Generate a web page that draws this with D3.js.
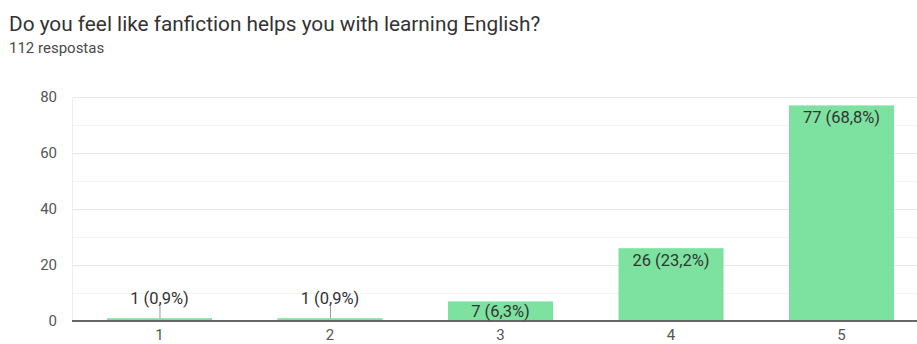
<!DOCTYPE html>
<html>
<head>
<meta charset="utf-8">
<script src="https://cdn.jsdelivr.net/npm/d3@7"></script>
<style>
  html, body { margin: 0; padding: 0; background: #fff; }
  svg { display: block; font-family: Roboto, "Noto Sans", sans-serif; }
</style>
</head>
<body>
<svg id="chart" width="917" height="344"></svg>
<script>
const title = "Do you feel like fanfiction helps you with learning English?";
const subtitle = "112 respostas";
const categories = ["1", "2", "3", "4", "5"];
const counts = [1, 1, 7, 26, 77];
const percentLabels = ["0,9%", "0,9%", "6,3%", "23,2%", "68,8%"];
const yTicks = [0, 20, 40, 60, 80];
const yMinorTicks = [10, 30, 50, 70];

const svg = d3.select("#chart");
const W = 917;
const FONT = "Roboto, 'Noto Sans', sans-serif";

svg.append("text").attr("x", 9).attr("y", 31)
  .attr("font-size", 20.8).attr("fill", "#333").text(title);
svg.append("text").attr("x", 9).attr("y", 53)
  .attr("font-size", 15).attr("fill", "#4a4a4a").text(subtitle);

const x = d3.scaleBand().domain(categories).range([72, 929])
  .paddingInner(0.384).paddingOuter(0.205);
const y = d3.scaleLinear().domain([0, 80]).range([321, 97]);

// gridlines: light minor lines at odd tens, slightly darker at labelled ticks
svg.append("g").selectAll("line").data(yMinorTicks).join("line")
  .attr("x1", 72).attr("x2", W).attr("y1", d => y(d) + 0.5).attr("y2", d => y(d) + 0.5)
  .attr("stroke", "#f4f4f4").attr("stroke-width", 1);
svg.append("g").selectAll("line").data(yTicks.filter(d => d > 0)).join("line")
  .attr("x1", 72).attr("x2", W).attr("y1", d => y(d) + 0.5).attr("y2", d => y(d) + 0.5)
  .attr("stroke", "#e8e8e8").attr("stroke-width", 1);
svg.append("line").attr("x1", 72.5).attr("x2", 72.5).attr("y1", y(80)).attr("y2", y(0))
  .attr("stroke", "#eeeeee");

// y axis labels
const yAxis = d3.axisLeft(y).tickValues(yTicks).tickSize(0).tickPadding(15);
const yg = svg.append("g").attr("transform", "translate(72,0)").call(yAxis);
yg.select(".domain").remove();
yg.selectAll("text").attr("font-size", 15).attr("fill", "#555").attr("font-family", FONT);

// bars
const data = categories.map((c, i) => ({ c, v: counts[i], p: percentLabels[i] }));
svg.append("g").selectAll("rect").data(data).join("rect")
  .attr("x", d => x(d.c)).attr("width", x.bandwidth())
  .attr("y", d => y(d.v)).attr("height", d => y(0) - y(d.v))
  .attr("fill", "#7de29f");

// x axis
const xAxis = d3.axisBottom(x).tickSize(0).tickPadding(8);
const xg = svg.append("g").attr("transform", `translate(0,${y(0)})`).call(xAxis);
xg.select(".domain").attr("d", `M72,0H${W}`).attr("stroke", "#666").attr("stroke-width", 2);
xg.selectAll("text").attr("font-size", 15).attr("fill", "#555").attr("font-family", FONT);

// value labels: above short bars with a leader line, inside taller ones
const labelText = d => `${d.v} (${d.p})`;
const LFS = 16.5;
const lab = svg.append("g").attr("font-size", LFS).attr("fill", "#333").attr("text-anchor", "middle");
data.forEach(d => {
  const cx = x(d.c) + x.bandwidth() / 2;
  const h = y(0) - y(d.v);
  if (h < 16) {
    lab.append("line").attr("x1", cx + 0.5).attr("x2", cx + 0.5)
      .attr("y1", 306).attr("y2", y(d.v))
      .attr("stroke", "#999").attr("stroke-width", 1);
    lab.append("text").attr("x", cx).attr("y", 304).text(labelText(d));
  } else if (h < 30) {
    lab.append("text").attr("x", cx).attr("y", y(0) - h / 2 + 0.36 * LFS).text(labelText(d));
  } else {
    lab.append("text").attr("x", cx).attr("y", y(d.v) + 17.5).text(labelText(d));
  }
});
</script>
</body>
</html>
